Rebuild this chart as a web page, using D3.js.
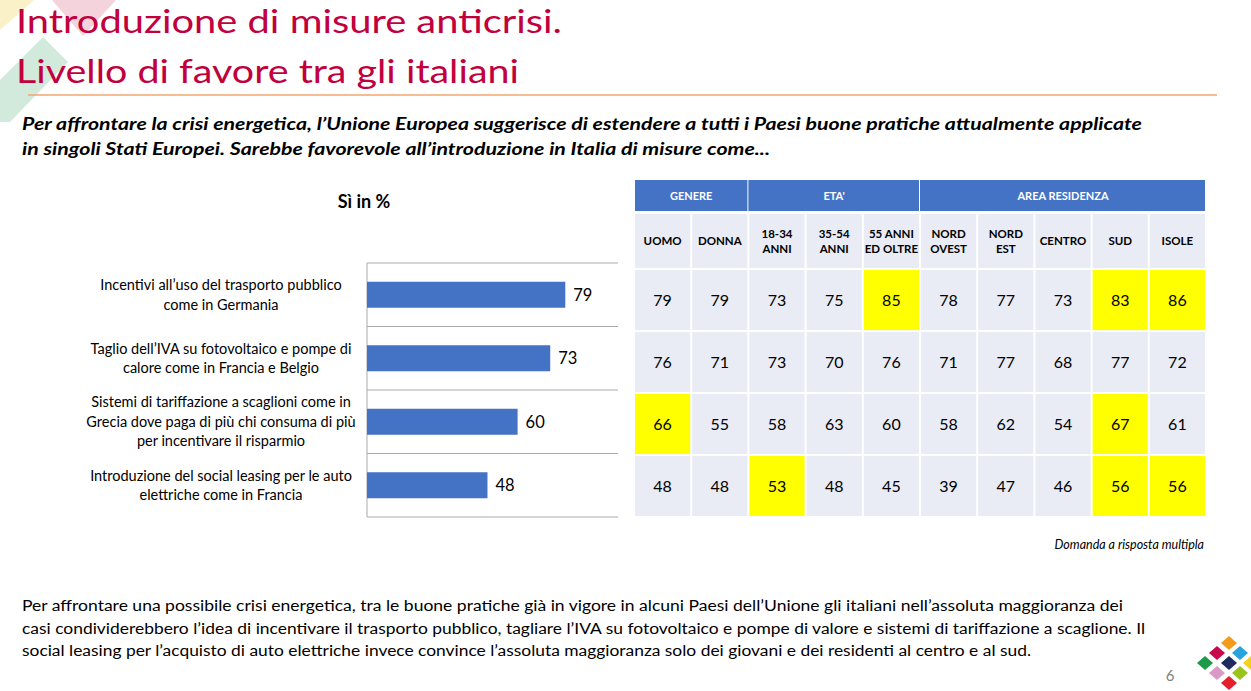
<!DOCTYPE html>
<html>
<head>
<meta charset="utf-8">
<script src="https://cdn.jsdelivr.net/npm/d3@7"></script>
<style>
  body { margin: 0; background: #fff; }
  svg { display: block; font-family: Lato, "Open Sans", sans-serif; }
</style>
</head>
<body>
<div id="slide"></div>
<script>
// data
var titleLines = ["Introduzione di misure anticrisi.", "Livello di favore tra gli italiani"];
var questionLines = [
  "Per affrontare la crisi energetica, l\u2019Unione Europea suggerisce di estendere a tutti i Paesi buone pratiche attualmente applicate",
  "in singoli Stati Europei. Sarebbe favorevole all\u2019introduzione in Italia di misure come..."
];
var measures = [
  ["Incentivi all\u2019uso del trasporto pubblico", "come in Germania"],
  ["Taglio dell\u2019IVA su fotovoltaico e pompe di", "calore come in Francia e Belgio"],
  ["Sistemi di tariffazione a scaglioni come in", "Grecia dove paga di pi\u00f9 chi consuma di pi\u00f9", "per incentivare il risparmio"],
  ["Introduzione del social leasing per le auto", "elettriche come in Francia"]
];
var totals = [79, 73, 60, 48];

var groupNames = ["GENERE", "ETA'", "AREA RESIDENZA"];
var groupSpans = [2, 3, 5];
var columns = [["UOMO"], ["DONNA"], ["18-34", "ANNI"], ["35-54", "ANNI"], ["55 ANNI", "ED OLTRE"],
               ["NORD", "OVEST"], ["NORD", "EST"], ["CENTRO"], ["SUD"], ["ISOLE"]];
var tableValues = [
  [79, 79, 73, 75, 85, 78, 77, 73, 83, 86],
  [76, 71, 73, 70, 76, 71, 77, 68, 77, 72],
  [66, 55, 58, 63, 60, 58, 62, 54, 67, 61],
  [48, 48, 53, 48, 45, 39, 47, 46, 56, 56]
];
// column indexes marked in yellow, per row
var highlighted = [[4, 8, 9], [], [0, 8], [2, 8, 9]];

var note = "Domanda a risposta multipla";
var commentLines = [
  "Per affrontare una possibile crisi energetica, tra le  buone pratiche gi\u00e0 in vigore in alcuni Paesi dell\u2019Unione gli italiani nell\u2019assoluta maggioranza dei",
  "casi condividerebbero l\u2019idea di incentivare il trasporto pubblico, tagliare l\u2019IVA su fotovoltaico e pompe di valore e sistemi di tariffazione a scaglione. Il",
  "social leasing per l\u2019acquisto di auto elettriche invece convince l\u2019assoluta maggioranza solo dei giovani e dei residenti al centro e al sud."
];
var pageNumber = "6";

function drawSlide() {
  var svgWidth = 1251, svgHeight = 691;

  var svg = d3.select("#slide")
    .append("svg")
    .attr("width", svgWidth)
    .attr("height", svgHeight);

  // pale decorations in the corner
  var deco = svg.append("g");
  deco.append("polygon").attr("points", "0,0 34,0 0,30").attr("fill", "#FBF1C9");
  deco.append("polygon").attr("points", "52,0 116,0 83,36").attr("fill", "#F4D3DC");
  deco.append("polygon").attr("points", "43,37 68,62 10,122 0,122 0,80").attr("fill", "#D2EADB");

  // title
  svg.selectAll(".title")
    .data(titleLines)
    .enter()
    .append("text")
    .attr("class", "title")
    .attr("x", 16)
    .attr("y", (d, i) => 33 + i * 50)
    .attr("font-size", "33px")
    .attr("fill", "#C1003D")
    .attr("textLength", (d, i) => i == 0 ? 546 : 503)
    .attr("lengthAdjust", "spacingAndGlyphs")
    .text(d => d);

  svg.append("line")
    .attr("x1", 28).attr("x2", 1217)
    .attr("y1", 95).attr("y2", 95)
    .attr("stroke", "#F4A46C")
    .attr("stroke-width", 1.5);

  svg.selectAll(".question")
    .data(questionLines)
    .enter()
    .append("text")
    .attr("class", "question")
    .attr("x", 22)
    .attr("y", (d, i) => 130 + i * 25)
    .attr("font-size", "16.5px")
    .attr("font-weight", "bold")
    .attr("font-style", "italic")
    .attr("fill", "#000")
    .attr("textLength", (d, i) => i == 0 ? 1120 : 748)
    .attr("lengthAdjust", "spacingAndGlyphs")
    .text(d => d);

  // bar chart
  svg.append("text")
    .attr("x", 364).attr("y", 208)
    .attr("text-anchor", "middle")
    .attr("font-size", "18px")
    .attr("font-weight", "bold")
    .text("S\u00ec in %");

  var xLinearScale = d3.scaleLinear().domain([0, 100]).range([367, 618]);
  var yBand = d3.scaleBand().domain(d3.range(totals.length)).range([263, 517]);

  var chartGroup = svg.append("g");

  chartGroup.selectAll(".grid")
    .data(d3.range(totals.length + 1))
    .enter()
    .append("line")
    .attr("x1", xLinearScale(0))
    .attr("x2", xLinearScale(100))
    .attr("y1", d => d < totals.length ? yBand(d) : yBand.range()[1])
    .attr("y2", d => d < totals.length ? yBand(d) : yBand.range()[1])
    .attr("stroke", "#ABABAB")
    .attr("stroke-width", 1);

  chartGroup.append("line")
    .attr("x1", xLinearScale(0)).attr("x2", xLinearScale(0))
    .attr("y1", 263).attr("y2", 517)
    .attr("stroke", "#ABABAB");

  var barHeight = 26;
  chartGroup.selectAll(".bar")
    .data(totals)
    .enter()
    .append("rect")
    .attr("class", "bar")
    .attr("x", xLinearScale(0))
    .attr("y", (d, i) => yBand(i) + yBand.bandwidth() / 2 - barHeight / 2)
    .attr("width", d => xLinearScale(d) - xLinearScale(0))
    .attr("height", barHeight)
    .attr("fill", "#4472C4");

  chartGroup.selectAll(".barLabel")
    .data(totals)
    .enter()
    .append("text")
    .attr("x", d => xLinearScale(d) + 8)
    .attr("y", (d, i) => yBand(i) + yBand.bandwidth() / 2 + 6)
    .attr("font-size", "16.5px")
    .attr("fill", "#000")
    .text(d => d);

  var labelGroup = chartGroup.selectAll(".catLabel")
    .data(measures)
    .enter()
    .append("text")
    .attr("text-anchor", "middle")
    .attr("font-size", "14.5px")
    .attr("fill", "#000");

  labelGroup.each(function(lines, i) {
    var top = yBand(i) + yBand.bandwidth() / 2 - (lines.length - 1) * 19.5 / 2 + 5;
    d3.select(this).selectAll("tspan")
      .data(lines)
      .enter()
      .append("tspan")
      .attr("x", 221)
      .attr("y", (d, j) => top + j * 19.5)
      .text(d => d);
  });

  // table
  var colScale = d3.scaleBand().domain(d3.range(columns.length)).range([635, 1205]).paddingInner(0.035);
  var rowScale = d3.scaleBand().domain(d3.range(tableValues.length)).range([270, 516]).paddingInner(0.03);

  var tableGroup = svg.append("g");

  var starts = [];
  groupSpans.reduce(function(acc, s) { starts.push(acc); return acc + s; }, 0);

  tableGroup.selectAll(".groupCell")
    .data(groupNames)
    .enter()
    .append("rect")
    .attr("x", (d, i) => colScale(starts[i]) - (i == 0 ? 0 : 1))
    .attr("y", 180)
    .attr("width", (d, i) => colScale(starts[i] + groupSpans[i] - 1) + colScale.bandwidth() - colScale(starts[i]) + (i == 0 ? 0 : 1))
    .attr("height", 31)
    .attr("fill", "#4472C4");

  tableGroup.selectAll(".groupText")
    .data(groupNames)
    .enter()
    .append("text")
    .attr("x", (d, i) => (colScale(starts[i]) + colScale(starts[i] + groupSpans[i] - 1) + colScale.bandwidth()) / 2)
    .attr("y", 200)
    .attr("text-anchor", "middle")
    .attr("font-size", "11px")
    .attr("font-weight", "bold")
    .attr("fill", "#fff")
    .text(d => d);

  tableGroup.selectAll(".colCell")
    .data(columns)
    .enter()
    .append("rect")
    .attr("x", (d, i) => colScale(i))
    .attr("y", 214)
    .attr("width", colScale.bandwidth())
    .attr("height", 54)
    .attr("fill", "#E9EBF5");

  tableGroup.selectAll(".colText")
    .data(columns)
    .enter()
    .append("text")
    .attr("text-anchor", "middle")
    .attr("font-size", "11.5px")
    .attr("font-weight", "bold")
    .attr("fill", "#000")
    .each(function(lines, i) {
      var top = 241 + 4 - (lines.length - 1) * 15 / 2;
      d3.select(this).selectAll("tspan")
        .data(lines)
        .enter()
        .append("tspan")
        .attr("x", colScale(i) + colScale.bandwidth() / 2)
        .attr("y", (d, j) => top + j * 15)
        .text(d => d);
    });

  var cells = [];
  tableValues.forEach(function(row, r) {
    row.forEach(function(v, c) {
      cells.push({ row: r, col: c, value: v, mark: highlighted[r].indexOf(c) >= 0 });
    });
  });

  tableGroup.selectAll(".cell")
    .data(cells)
    .enter()
    .append("rect")
    .attr("x", d => colScale(d.col))
    .attr("y", d => rowScale(d.row))
    .attr("width", colScale.bandwidth())
    .attr("height", rowScale.bandwidth())
    .attr("fill", d => d.mark ? "#FFFF00" : "#E9EBF5");

  tableGroup.selectAll(".cellText")
    .data(cells)
    .enter()
    .append("text")
    .attr("x", d => colScale(d.col) + colScale.bandwidth() / 2)
    .attr("y", d => rowScale(d.row) + rowScale.bandwidth() / 2 + 6)
    .attr("text-anchor", "middle")
    .attr("font-size", "16px")
    .attr("fill", "#000")
    .text(d => d.value);

  svg.append("text")
    .attr("x", 1204).attr("y", 549)
    .attr("text-anchor", "end")
    .attr("font-size", "12.5px")
    .attr("font-style", "italic")
    .attr("fill", "#000")
    .text(note);

  // comment
  svg.selectAll(".comment")
    .data(commentLines)
    .enter()
    .append("text")
    .attr("x", 22)
    .attr("y", (d, i) => 611 + i * 22.5)
    .attr("font-size", "14.5px")
    .attr("fill", "#000")
    .attr("textLength", (d, i) => [1101, 1123, 1009][i])
    .attr("lengthAdjust", "spacingAndGlyphs")
    .text(d => d);

  svg.append("text")
    .attr("x", 1170).attr("y", 681)
    .attr("text-anchor", "middle")
    .attr("font-size", "15px")
    .attr("fill", "#7F7F7F")
    .text(pageNumber);

  // logo
  var logo = [
    [1229, 643, "#F39C1B"], [1217, 653, "#C8084A"], [1240, 653, "#29A3DD"],
    [1205, 663, "#1D9A48"], [1229, 663, "#1F2A5E"], [1251, 663, "#F7D117"],
    [1217, 673, "#D99BC4"], [1240, 673, "#9BC31E"], [1229, 683, "#E3202C"]
  ];
  svg.append("g").selectAll("path")
    .data(logo)
    .enter()
    .append("path")
    .attr("d", d => `M${d[0]},${d[1] - 7} L${d[0] + 8},${d[1]} L${d[0]},${d[1] + 7} L${d[0] - 8},${d[1]} Z`)
    .attr("fill", d => d[2]);
}

document.addEventListener('DOMContentLoaded', function(){
  drawSlide();
});
</script>
</body>
</html>
